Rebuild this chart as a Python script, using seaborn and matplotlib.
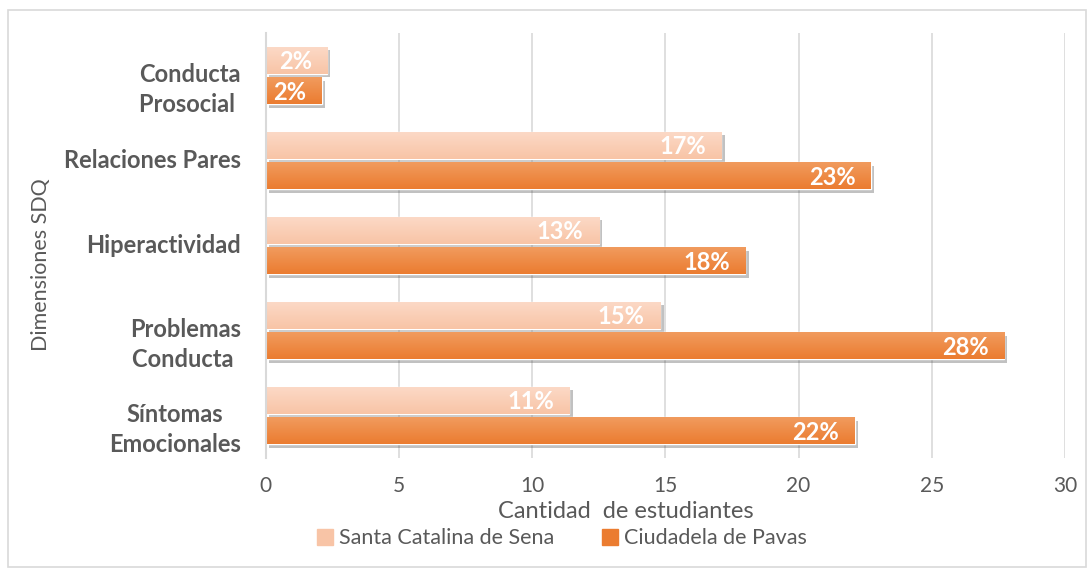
import pandas as pd
import numpy as np
import matplotlib
import matplotlib.pyplot as plt
import matplotlib.patheffects as pe
import matplotlib.colors as mcolors
import seaborn as sns
matplotlib.use('Agg')

sns.set_style('white')
plt.rcParams['font.family'] = ['Lato', 'DejaVu Sans']

categorias = ['Conducta\nProsocial ', 'Relaciones Pares', 'Hiperactividad',
              'Problemas\nConducta ', 'Síntomas\nEmocionales']
santa_catalina = [2.3, 17.1, 12.5, 14.8, 11.4]
ciudadela = [2.1, 22.7, 18.0, 27.7, 22.1]
etiq_santa = ['2%', '17%', '13%', '15%', '11%']
etiq_ciudadela = ['2%', '23%', '18%', '28%', '22%']
series = ['Santa Catalina de Sena', 'Ciudadela de Pavas']
colores = ['#F8C4A6', '#EB7C30']
colores_top = ['#FCD9C6', '#F19B5E']

gris = '#595959'

df = pd.DataFrame({
    'Dimension': categorias * 2,
    'Cantidad': santa_catalina + ciudadela,
    'Colegio': [series[0]] * 5 + [series[1]] * 5,
})

fig = plt.figure(figsize=(10.89, 5.69), dpi=100)
ax = fig.add_axes([0.244, 0.195, 0.734, 0.747])

sns.barplot(data=df, y='Dimension', x='Cantidad', hue='Colegio',
            palette=colores, orient='h', width=0.72, gap=0.12,
            ax=ax, saturation=1, legend=False)

ax.set_xlim(0, 30)
ax.set_ylim(4.5, -0.5)

# degradado vertical y sombra en cada barra
for cont, c_top, c_base in zip(ax.containers, colores_top, colores):
    cmap = mcolors.LinearSegmentedColormap.from_list('g', [c_top, c_base])
    grad = np.linspace(0, 1, 64).reshape(-1, 1)
    for bar in cont:
        x0, y0 = bar.get_x(), bar.get_y()
        w, h = bar.get_width(), bar.get_height()
        bar.set_path_effects([pe.SimplePatchShadow(offset=(2.5, -2.5), alpha=0.3,
                                                   shadow_rgbFace='#333333'), pe.Normal()])
        im = ax.imshow(grad, cmap=cmap, aspect='auto', extent=(x0, x0 + w, y0 + h, y0),
                       origin='upper', zorder=bar.get_zorder() + 0.1)
        im.set_clip_path(bar)

ax.set_xlim(0, 30)
ax.set_ylim(4.5, -0.5)

# etiquetas de porcentaje
for cont, etiq in zip(ax.containers, [etiq_santa, etiq_ciudadela]):
    for bar, txt in zip(cont, etiq):
        ax.annotate(txt, (bar.get_width(), bar.get_y() + bar.get_height() / 2),
                    xytext=(-11, -1), textcoords='offset points', ha='right', va='center',
                    color='white', fontsize=17, fontweight='bold', zorder=5)

ax.set_xticks(range(0, 31, 5))
ax.grid(axis='x', color='#D9D9D9', linewidth=1.2)
ax.set_axisbelow(True)
for s in ['top', 'right', 'bottom']:
    ax.spines[s].set_visible(False)
ax.spines['left'].set_color('#D9D9D9')
ax.spines['left'].set_linewidth(1.5)

ax.tick_params(axis='x', colors=gris, labelsize=15, length=0, pad=13)

# etiquetas de categorias (las de dos lineas van algo mas abajo)
ax.set_yticks(range(len(categorias)))
ax.set_yticklabels([])
ax.tick_params(axis='y', length=0)
for i, cat in enumerate(categorias):
    dy = -10 if '\n' in cat else 0
    ax.annotate(cat, (0, i), xycoords=ax.get_yaxis_transform(), xytext=(-18, dy),
                textcoords='offset points', ha='right', va='center', multialignment='center',
                fontsize=17, fontweight='bold', color=gris, linespacing=1.4)

ax.set_xlabel('Cantidad  de estudiantes', fontsize=17, color=gris)
ax.xaxis.set_label_coords(0.45, -0.1)
ax.set_ylabel('Dimensiones SDQ', fontsize=15.5, color=gris)
ax.yaxis.set_label_coords(-0.268, 0.455)

handles = [plt.Rectangle((0, 0), 1, 1, color=c) for c in colores]
fig.legend(handles, series, loc='center', bbox_to_anchor=(0.516, 0.054), ncol=2,
           frameon=False, fontsize=15.5, labelcolor=gris, handlelength=0.75,
           handleheight=0.75, handletextpad=0.3, columnspacing=2.2)

# borde del grafico
fig.patches.append(plt.Rectangle((0.007, 0.003), 0.99, 0.98, transform=fig.transFigure,
                                 fill=False, edgecolor='#D9D9D9', linewidth=1.2))

fig.savefig('out.png', dpi=100)
